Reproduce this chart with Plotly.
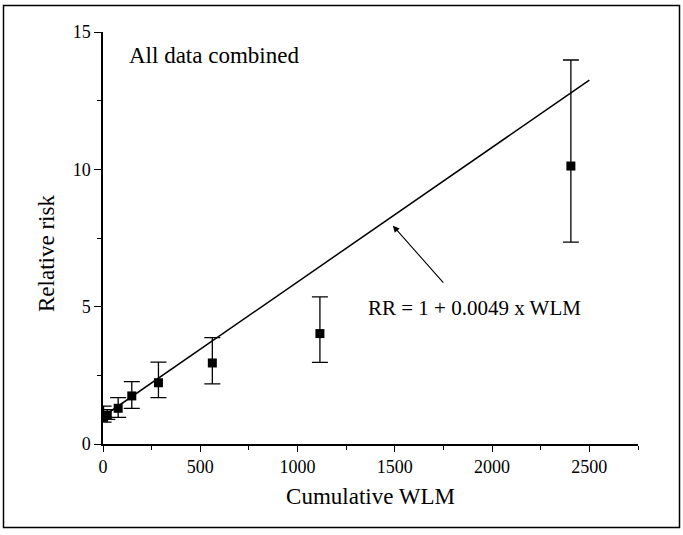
import plotly.graph_objects as go

# Cumulative exposure categories (WLM) and relative risks with 95% CIs
wlm = [3, 22, 78, 148, 285, 562, 1115, 2405]
rr = [0.97, 1.05, 1.30, 1.75, 2.23, 2.95, 4.02, 10.12]
rr_low = [0.80, 0.90, 0.97, 1.30, 1.69, 2.19, 2.97, 7.35]
rr_high = [1.38, 1.25, 1.69, 2.27, 2.98, 3.87, 5.36, 13.98]

# Fitted linear model RR = 1 + b * WLM
slope = 0.0049
fit_x = [0, 2500]
fit_y = [1 + slope * v for v in fit_x]

x_ticks = [0, 500, 1000, 1500, 2000, 2500]
y_ticks = [0, 5, 10, 15]

FONT = "Liberation Serif, Times New Roman, serif"
W, H = 683, 535
ML, MR, MT, MB = 103, 45, 32, 91

fig = go.Figure()

fig.add_trace(go.Scatter(
    x=fit_x, y=fit_y, mode="lines",
    line=dict(color="black", width=1.5),
    hoverinfo="skip", showlegend=False,
))

fig.add_trace(go.Scatter(
    x=wlm, y=rr, mode="markers",
    marker=dict(symbol="square", size=9, color="black"),
    error_y=dict(
        type="data", symmetric=False,
        array=[h - v for h, v in zip(rr_high, rr)],
        arrayminus=[v - l for v, l in zip(rr, rr_low)],
        color="black", thickness=1.3, width=8,
    ),
    showlegend=False,
))

fig.add_annotation(
    x=125, y=14.15, xref="x", yref="y", xanchor="left", yanchor="middle",
    text="All data combined", showarrow=False,
    font=dict(family=FONT, size=23, color="black"),
)

fig.add_annotation(
    x=1910, y=4.95, xref="x", yref="y", xanchor="center", yanchor="middle",
    text="RR = 1 + 0.0049 x WLM", showarrow=False,
    font=dict(family=FONT, size=21, color="black"),
)

fig.add_annotation(
    x=1490, y=7.95, ax=1756, ay=5.82, xref="x", yref="y", axref="x", ayref="y",
    text="", showarrow=True, arrowhead=2, arrowsize=1.2, arrowwidth=1.1,
    arrowcolor="black",
)

# Pixel -> paper coordinate helpers
pw, ph = W - ML - MR, H - MT - MB
def px_to_paper_x(px):
    return (px - ML) / pw
def px_to_paper_y(py):
    return (H - MB - py) / ph

# Y-axis title, placed as rotated text
fig.add_annotation(
    x=px_to_paper_x(46), y=px_to_paper_y(254), xref="paper", yref="paper",
    xanchor="center", yanchor="middle", textangle=-90,
    text="Relative risk", showarrow=False,
    font=dict(family=FONT, size=23, color="black"),
)

# Outer frame around the whole figure
fig.add_shape(
    type="rect", xref="paper", yref="paper",
    x0=px_to_paper_x(3.5), x1=px_to_paper_x(679.5),
    y0=px_to_paper_y(527.5), y1=px_to_paper_y(5.5),
    line=dict(color="black", width=1.5), fillcolor="rgba(0,0,0,0)",
)

fig.update_layout(
    width=W, height=H,
    margin=dict(l=ML, r=MR, t=MT, b=MB, pad=0),
    paper_bgcolor="white", plot_bgcolor="white",
    font=dict(family=FONT, size=16, color="black"),
    showlegend=False,
)

fig.update_xaxes(
    range=[0, 2750], tickvals=x_ticks, ticktext=[str(v) for v in x_ticks],
    showgrid=False, zeroline=False,
    showline=True, linecolor="black", linewidth=1.5,
    ticks="outside", ticklen=6, tickwidth=1.3, tickcolor="black",
    minor=dict(dtick=250, tick0=0, ticks="outside", ticklen=4, tickwidth=1.2, tickcolor="black", showgrid=False),
    tickfont=dict(family=FONT, size=18),
    title=dict(text="Cumulative WLM", font=dict(family=FONT, size=23), standoff=12),
)

fig.update_yaxes(
    range=[0, 15], tickvals=y_ticks, ticktext=[str(v) for v in y_ticks],
    showgrid=False, zeroline=False,
    showline=True, linecolor="black", linewidth=1.5,
    ticks="outside", ticklen=7, tickwidth=1.3, tickcolor="black",
    minor=dict(dtick=2.5, tick0=0, ticks="outside", ticklen=4, tickwidth=1.2, tickcolor="black", showgrid=False),
    tickfont=dict(family=FONT, size=18),
)

fig.write_html("out.html")
